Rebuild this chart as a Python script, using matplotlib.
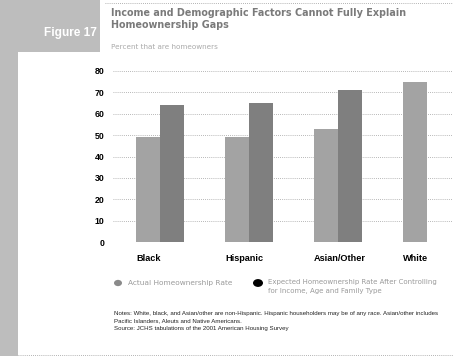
import matplotlib
matplotlib.use("Agg")
import matplotlib.pyplot as plt
from matplotlib.patches import Rectangle, Circle
import numpy as np

categories = ["Black", "Hispanic", "Asian/Other", "White"]
actual_rate = [49, 49, 53, 75]
expected_rate = [64, 65, 71, np.nan]
y_ticks = [0, 10, 20, 30, 40, 50, 60, 70, 80]

title_lines = "Income and Demographic Factors Cannot Fully Explain\nHomeownership Gaps"
subtitle = "Percent that are homeowners"
legend_actual = "Actual Homeownership Rate"
legend_expected = "Expected Homeownership Rate After Controlling\nfor Income, Age and Family Type"
notes = ("Notes: White, black, and Asian/other are non-Hispanic. Hispanic householders may be of any race. Asian/other includes\n"
         "Pacific Islanders, Aleuts and Native Americans.\n"
         "Source: JCHS tabulations of the 2001 American Housing Survey")

W, H = 453, 356
fig = plt.figure(figsize=(W / 100, H / 100), dpi=100)
fig.patch.set_facecolor("white")

SANS = ["Liberation Sans", "DejaVu Sans"]
STRIPE = "#bdbdbd"

# page furniture: left stripe and figure tab
fig.add_artist(Rectangle((0, 0), 18 / W, 1 - 3 / H, transform=fig.transFigure,
                         facecolor=STRIPE, edgecolor="none"))
fig.add_artist(Rectangle((0, 1 - 52 / H), 100 / W, 52 / H, transform=fig.transFigure,
                         facecolor=STRIPE, edgecolor="none"))
fig.text(97 / W, 1 - 33 / H, "Figure 17", color="white", fontsize=8.6, fontweight="bold",
         family=SANS, ha="right", va="center")
fig.add_artist(plt.Line2D([105 / W, 1], [1 - 3 / H, 1 - 3 / H], transform=fig.transFigure,
                          color="#9a9a9a", lw=0.6, ls=(0, (1, 1.5))))
fig.add_artist(plt.Line2D([18 / W, 1], [1 / H, 1 / H], transform=fig.transFigure,
                          color="#9a9a9a", lw=0.6, ls=(0, (1, 1.5))))

# titles
fig.text(111 / W, 1 - 8 / H, title_lines, color="#7a7a7a", fontsize=6.95, fontweight="bold",
         family="DejaVu Sans", ha="left", va="top", linespacing=1.25)
fig.text(111 / W, 1 - 47 / H, subtitle, color="#aaaaaa", fontsize=5.2,
         family="DejaVu Sans", ha="left", va="center")

# chart area
ax = fig.add_axes([113 / W, 1 - 242 / H, 340 / W, 171 / H])
x = np.arange(len(categories))
bw = 24 / 89
ax.bar(x - bw / 2, actual_rate, bw, color="#a3a3a3", edgecolor="none", zorder=2)
ax.bar(x + bw / 2, expected_rate, bw, color="#7f7f7f", edgecolor="none", zorder=2)

ax.set_xlim(-47 / 89, (453 - 160) / 89)
ax.set_ylim(0, 80)
ax.set_yticks(y_ticks)
ax.set_yticklabels([str(v) for v in y_ticks], fontsize=6.3, fontweight="bold", family=SANS)
ax.tick_params(axis="y", length=0, pad=6)
ax.set_xticks([])
for v in y_ticks:
    ax.axhline(v, color="#a0a0a0", lw=0.6, ls=(0, (1, 1.5)), zorder=1)
for s in ax.spines.values():
    s.set_visible(False)

for xi, name in zip(x, categories):
    ax.text(xi - bw, -0.095, name, transform=ax.get_xaxis_transform(), ha="left", va="center",
            fontsize=6.6, fontweight="bold", family=SANS)

# legend
fig.add_artist(Circle((118 / W, 1 - 283 / H), 4 / W, transform=fig.transFigure,
                      facecolor="#8a8a8a", edgecolor="none"))
fig.text(128 / W, 1 - 283 / H, legend_actual, color="#9a9a9a", fontsize=5.3,
         family="DejaVu Sans", ha="left", va="center")
fig.add_artist(Circle((258 / W, 1 - 283 / H), 5 / W, transform=fig.transFigure,
                      facecolor="black", edgecolor="none"))
fig.text(268 / W, 1 - 279 / H, legend_expected, color="#9a9a9a", fontsize=5.05,
         family="DejaVu Sans", ha="left", va="top", linespacing=1.6)

# notes
fig.text(114 / W, 1 - 311 / H, notes, color="#222222", fontsize=4.38,
         family=SANS, ha="left", va="top", linespacing=1.65)

fig.savefig("out.png", dpi=100)
